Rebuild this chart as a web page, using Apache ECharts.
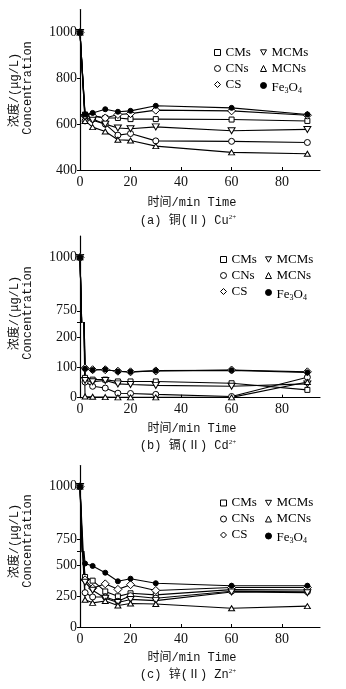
<!DOCTYPE html>
<html>
<head>
<meta charset="utf-8">
<script src="https://cdn.jsdelivr.net/npm/echarts@6/dist/echarts.min.js"></script>
<style>
  html, body { margin: 0; padding: 0; background: #fff; }
  #chart { width: 346px; height: 689px; }
</style>
</head>
<body>
<div id="chart"></div>
<script>
// 取样时间 / min
var times = [0, 2, 5, 10, 15, 20, 30, 60, 90];
var xTicks = [0, 20, 40, 60, 80];
var names = ['CMs', 'CNs', 'CS', 'MCMs', 'MCNs', 'Fe3O4'];

// (a) 铜 Cu2+
var cuCMs  = [1000, 642, 636, 627, 627, 622, 622, 620, 614];
var cuCNs  = [1000, 614, 622, 600, 552, 559, 527, 525, 520];
var cuCS   = [1000, 636, 636, 627, 642, 646, 661, 658, 639];
var cuMCMs = [1000, 629, 617, 600, 583, 580, 588, 571, 577];
var cuMCNs = [1000, 614, 587, 568, 532, 529, 504, 477, 471];
var cuFe   = [1000, 642, 649, 665, 654, 658, 680, 671, 642];
var cuTicks = [400, 600, 800, 1000];

// (b) 镉 Cd2+
var cdCMs  = [1000, 66, 60, 60, 54, 54, 54, 48, 26];
var cdCNs  = [1000, 52, 38, 32, 15, 14, 11, 4, 68];
var cdCS   = [1000, 98, 93, 93, 88, 86, 89, 92, 86];
var cdMCMs = [1000, 57, 53, 57, 46, 44, 41, 38, 46];
var cdMCNs = [1000, 4, 3, 2, 1, 1, 1, 1, 52];
var cdFe   = [1000, 96, 92, 94, 87, 86, 90, 91, 84];
var cdTicksHigh = [750, 1000];
var cdTicksLow = [0, 100, 200];

// (c) 锌 Zn2+
var znCMs  = [1000, 408, 378, 290, 250, 275, 262, 305, 302];
var znCNs  = [1000, 280, 245, 245, 210, 255, 235, 292, 288];
var znCS   = [1000, 385, 316, 352, 307, 345, 298, 322, 322];
var znMCMs = [1000, 365, 300, 235, 200, 225, 215, 285, 280];
var znMCNs = [1000, 222, 197, 212, 175, 192, 187, 153, 170];
var znFe   = [1000, 518, 498, 443, 373, 394, 357, 337, 337];
var znTicksHigh = [750, 1000];
var znTicksLow = [0, 250, 500];

var SERIF = 'Liberation Serif';
var MONO = 'Liberation Mono, Noto Sans CJK SC';
var downTri = 'path://M0,0L10,0L5,9Z';

var marks = {
    CMs:   { symbol: 'rect', size: 5, fill: '#fff' },
    CNs:   { symbol: 'circle', size: 6, fill: '#fff' },
    CS:    { symbol: 'diamond', size: 8, fill: '#fff' },
    MCMs:  { symbol: downTri, size: [7, 6], fill: '#fff' },
    MCNs:  { symbol: 'triangle', size: [6, 5], fill: '#fff' },
    Fe3O4: { symbol: 'circle', size: 5, fill: '#000' }
};

function pairs(vals) {
    return times.map(function (t, i) { return [t, vals[i]]; });
}

// grids: a, b-high, b-low, c-high, c-low
var grids = [
    { left: 80, top: 9.5, width: 240, height: 160.5 },
    { left: 80, top: 236, width: 240, height: 86.5 },
    { left: 80, top: 322.5, width: 240, height: 75.2 },
    { left: 80, top: 465.6, width: 240, height: 86 },
    { left: 80, top: 551.6, width: 240, height: 75.4 }
];

function plain(v) { return String(v); }

function xAxis(idx, show) {
    return {
        type: 'value', gridIndex: idx, min: 0, max: 95, show: show,
        axisLine: { lineStyle: { color: '#000', width: 1.2 } },
        axisTick: { inside: true, length: 3, customValues: xTicks, lineStyle: { color: '#000' } },
        axisLabel: { customValues: xTicks, formatter: plain, margin: 5, fontFamily: SERIF, fontSize: 14, color: '#111' },
        splitLine: { show: false }
    };
}

function yAxis(idx, min, max, ticks, extraTicks) {
    return {
        type: 'value', gridIndex: idx, min: min, max: max,
        axisLine: { show: true, onZero: false, lineStyle: { color: '#000', width: 1.2 } },
        axisTick: { show: true, length: 3, customValues: ticks.concat(extraTicks || []), lineStyle: { color: '#000' } },
        axisLabel: { customValues: ticks, formatter: plain, margin: 3, fontFamily: SERIF, fontSize: 14, color: '#111' },
        splitLine: { show: false }
    };
}

var xAxes = [xAxis(0, true), xAxis(1, false), xAxis(2, true), xAxis(3, false), xAxis(4, true)];
var yAxes = [
    yAxis(0, 400, 1100, cuTicks),
    yAxis(1, 695, 1100, cdTicksHigh, [695]),
    yAxis(2, 0, 250, cdTicksLow),
    yAxis(3, 690, 1100, znTicksHigh, [690]),
    yAxis(4, 0, 615, znTicksLow)
];

var panelData = [
    { axes: [0], vals: [cuCMs, cuCNs, cuCS, cuMCMs, cuMCNs, cuFe] },
    { axes: [1, 2], vals: [cdCMs, cdCNs, cdCS, cdMCMs, cdMCNs, cdFe] },
    { axes: [3, 4], vals: [znCMs, znCNs, znCS, znMCMs, znMCNs, znFe] }
];

var series = [];
panelData.forEach(function (p) {
    p.axes.forEach(function (ax) {
        names.forEach(function (n, k) {
            var m = marks[n];
            series.push({
                name: n, type: 'line', xAxisIndex: ax, yAxisIndex: ax,
                data: pairs(p.vals[k]),
                symbol: m.symbol, symbolSize: m.size,
                showAllSymbol: true,
                lineStyle: { color: '#000', width: 1.1 },
                itemStyle: { color: m.fill, borderColor: '#000', borderWidth: 1 },
                emphasis: { disabled: true },
                animation: false
            });
        });
    });
});

function legendItem(n) {
    var m = marks[n];
    return {
        name: n,
        icon: m.symbol,
        itemStyle: { color: m.fill, borderColor: '#000', borderWidth: 1 }
    };
}

function legend(left, top, list) {
    return {
        orient: 'vertical', left: left, top: top,
        itemWidth: 6, itemHeight: 6, itemGap: 0, selectedMode: false,
        data: list.map(legendItem),
        formatter: function (name) {
            return name === 'Fe3O4' ? '{n|Fe}{s|3}{n|O}{s|4}' : name;
        },
        textStyle: {
            fontFamily: SERIF, fontSize: 13, color: '#000', lineHeight: 16,
            rich: {
                n: { fontFamily: SERIF, fontSize: 13, lineHeight: 16, padding: [4, 0, 0, 0] },
                s: { fontFamily: SERIF, fontSize: 8, lineHeight: 16, padding: [10, 0, 0, 0] }
            }
        }
    };
}

var col1 = ['CMs', 'CNs', 'CS'];
var col2 = ['MCMs', 'MCNs', 'Fe3O4'];
var legends = [
    legend(209, 39.5, col1), legend(255, 39.5, col2),
    legend(215, 246.5, col1), legend(260, 246.5, col2),
    legend(215, 490, col1), legend(260, 490, col2)
];

function text(x, y, str, font, rot) {
    return {
        type: 'text', x: x, y: y, rotation: rot || 0,
        style: { text: str, font: font, fill: '#111', align: 'center', verticalAlign: 'middle' }
    };
}

function caption(x, y, tag, cn, el) {
    return {
        type: 'text', x: x, y: y,
        style: {
            text: '{m|' + tag + ' ' + cn + ' ' + el + '}{sup|2+}',
            fill: '#111', align: 'center', verticalAlign: 'middle',
            rich: {
                m: { font: '12px ' + MONO, lineHeight: 14 },
                sup: { font: '7px ' + SERIF, lineHeight: 14, padding: [0, 0, 7, 0] }
            }
        }
    };
}

var yFont = '12px ' + MONO;
var graphics = [
    text(15, 90, '浓度/(μg/L)', yFont, Math.PI / 2),
    text(28, 88, 'Concentration', yFont, Math.PI / 2),
    text(192, 203, '时间/min Time', yFont),
    caption(188, 221, '(a)', '铜(Ⅱ)', 'Cu'),

    text(15, 313, '浓度/(μg/L)', yFont, Math.PI / 2),
    text(28, 313, 'Concentration', yFont, Math.PI / 2),
    text(192, 429, '时间/min Time', yFont),
    caption(188, 446, '(b)', '镉(Ⅱ)', 'Cd'),

    text(15, 541, '浓度/(μg/L)', yFont, Math.PI / 2),
    text(28, 541, 'Concentration', yFont, Math.PI / 2),
    text(192, 658, '时间/min Time', yFont),
    caption(188, 675, '(c)', '锌(Ⅱ)', 'Zn')
];

var chart = echarts.init(document.getElementById('chart'), null, { renderer: 'canvas' });
chart.setOption({
    backgroundColor: '#fff',
    animation: false,
    grid: grids,
    xAxis: xAxes,
    yAxis: yAxes,
    legend: legends,
    series: series,
    graphic: graphics
});
</script>
</body>
</html>
